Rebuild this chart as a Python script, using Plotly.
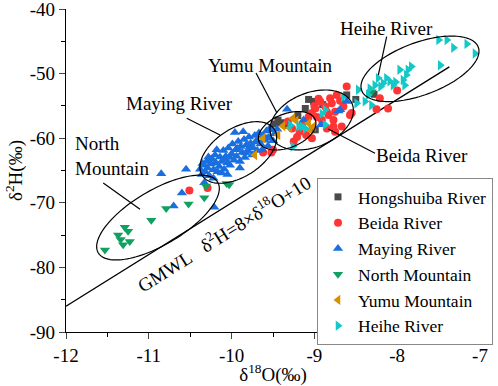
import numpy as np
import plotly.graph_objects as go

# ---------------- data ----------------
hong_x = [-9.07, -9.01, -9.11, -9.44, -9.48, -9.32, -8.99, -8.61, -8.50, -8.28, -9.20, -9.40, -8.90]
hong_y = [-54.0, -54.3, -55.4, -57.2, -57.8, -58.0, -58.7, -53.3, -54.0, -53.2, -56.5, -57.6, -54.8]

beida_x = [-10.51, -10.29, -9.62, -9.52, -9.50, -8.61, -8.73, -8.81, -8.93, -8.87, -8.79, -8.65, -8.75,
           -8.83, -8.99, -9.03, -8.97, -9.07, -9.15, -9.32, -9.27, -9.21, -9.25, -8.85, -8.75, -8.67,
           -8.55, -8.77, -8.91, -8.57, -8.77, -8.21, -8.00, -8.25, -8.11, -9.03, -9.18, -9.10, -8.95,
           -8.69, -8.85, -9.00]
beida_y = [-68.1, -67.7, -62.2, -62.2, -61.8, -52.0, -53.3, -53.8, -54.3, -55.1, -54.6, -55.1, -55.9,
           -56.4, -55.4, -56.1, -56.7, -56.7, -58.0, -57.4, -58.5, -59.8, -60.5, -58.5, -59.0, -58.2,
           -56.1, -57.2, -57.2, -56.4, -58.2, -53.8, -52.6, -55.5, -55.4, -60.0, -59.0, -59.5, -53.9,
           -54.2, -55.9, -55.0]

maying_x = [-10.85, -10.55, -10.60, -10.70, -10.21, -10.33, -9.96, -9.33, -8.92, -8.71, -8.61, -9.13,
            -8.69, -9.54, -10.05, -10.22, -9.90,
            -10.38, -10.36, -10.34, -10.32, -10.30, -10.29, -10.27, -10.25, -10.24, -10.22, -10.20,
            -10.19, -10.17, -10.15, -10.14, -10.12, -10.10, -10.09, -10.07, -10.05, -10.04, -10.02,
            -10.00, -9.99, -9.97, -9.95, -9.94, -9.92, -9.90, -9.89, -9.87, -9.85, -9.84, -9.82,
            -9.80, -9.79, -9.77, -9.75, -9.74, -9.72, -9.70, -9.69, -9.67, -9.65, -9.63, -9.62,
            -9.60, -9.58, -9.56, -9.55, -9.52, -9.50, -9.48, -9.45, -10.28, -10.12, -10.18, -9.86,
            -10.26, -10.08, -9.93, -9.78, -9.68, -9.57, -10.35, -10.02, -9.83]
maying_y = [-65.5, -64.8, -68.5, -70.5, -70.7, -66.9, -59.1, -55.5, -57.9, -55.8, -54.3, -57.2,
            -55.6, -58.5, -65.6, -66.2, -64.6,
            -64.8, -65.6, -64.2, -65.2, -63.6, -64.6, -65.8, -64.0, -63.2, -64.9, -62.6,
            -63.8, -65.2, -64.4, -62.9, -63.6, -61.9, -64.8, -62.8, -63.8, -61.5, -64.2,
            -62.4, -60.9, -63.4, -61.8, -62.8, -60.5, -63.6, -61.3, -62.2, -60.2, -63.0, -61.0,
            -62.0, -59.8, -60.8, -62.6, -61.5, -59.6, -60.4, -61.9, -59.2, -60.9, -61.8, -59.6,
            -60.3, -58.9, -61.2, -59.9, -58.7, -60.4, -59.3, -58.6, -62.9, -65.4, -61.8, -59.0,
            -63.3, -63.2, -61.6, -61.3, -60.6, -60.0, -63.9, -63.0, -62.3]

north_x = [-11.53, -11.37, -11.29, -11.25, -11.34, -11.31, -11.23, -10.97, -10.79, -10.52, -10.33,
           -10.31, -10.06, -10.03, -8.31]
north_y = [-77.3, -75.0, -73.8, -74.4, -75.7, -76.5, -76.0, -72.7, -70.9, -70.2, -69.2,
           -67.4, -67.0, -67.2, -52.8]

yumu_x = [-9.72, -9.62, -9.44, -9.26, -9.05, -9.07, -9.22, -9.38, -9.30, -9.01]
yumu_y = [-62.6, -60.0, -59.5, -56.9, -58.7, -57.7, -57.3, -58.1, -58.4, -58.2]

heihe_x = [-7.50, -7.40, -7.32, -7.16, -7.06, -7.48, -7.83, -7.87, -7.97, -7.89, -8.23, -8.13,
           -8.09, -8.17, -8.05, -7.93, -7.91, -8.27, -8.33, -8.35, -8.39, -8.49, -8.31, -8.47,
           -8.65, -8.87, -8.91, -9.15, -9.29, -9.19, -9.11, -8.87, -9.26, -8.20, -8.02]
heihe_y = [-44.8, -44.8, -46.0, -45.4, -46.9, -48.7, -48.9, -49.4, -49.4, -50.2, -50.7, -50.7,
           -51.2, -51.5, -51.8, -51.0, -51.8, -51.8, -52.3, -53.3, -54.3, -54.6, -54.9, -52.5,
           -53.6, -55.6, -56.2, -58.2, -58.0, -58.2, -58.5, -57.9, -61.3, -52.0, -51.3]

x_ticks = [-12, -11, -10, -9, -8, -7]
x_ticktext = ["-12", "-11", "-10", "-9", "-8", "-7"]
y_ticks = [-90, -80, -70, -60, -50, -40]
y_ticktext = ["-90", "-80", "-70", "-60", "-50", "-40"]

series = [
    ("Hongshuiba River", hong_x, hong_y, "square", "#4a4a4a", 7),
    ("Beida River", beida_x, beida_y, "circle", "#ff3535", 8),
    ("Maying River", maying_x, maying_y, "triangle-up", "#1a6fe0", 9),
    ("North Mountain", north_x, north_y, "triangle-down", "#10a060", 9),
    ("Yumu Mountain", yumu_x, yumu_y, "triangle-left", "#d99000", 9),
    ("Heihe River", heihe_x, heihe_y, "triangle-right", "#14c8c8", 9),
]

gmwl_x = [-12.0, -7.37]

# ellipses: centre (data), semi-axes (px), angle (deg)
ellipses = [
    (-10.889, -72.28, 69.4, 27.3, 30.6),
    (-9.919, -62.21, 42.8, 24.2, 32.6),
    (-9.329, -58.85, 30.2, 16.9, 21.4),
    (-9.033, -57.18, 43.6, 27.2, 21.8),
    (-7.725, -49.26, 62.2, 26.2, 20.4),
]

SX = 414 / 5.0   # px per x unit
SY = 323 / 50.0  # px per y unit

FONT = "'Liberation Serif', 'Times New Roman', serif"

fig = go.Figure()

fig.add_trace(go.Scatter(x=gmwl_x, y=[8 * v + 10 for v in gmwl_x], mode="lines",
                         line=dict(color="black", width=1.3), showlegend=False, hoverinfo="skip"))

for name, xs, ys, sym, col, sz in series:
    fig.add_trace(go.Scatter(x=xs, y=ys, mode="markers", name=name,
                             marker=dict(symbol=sym, color=col, size=sz, line=dict(width=0))))

shapes = []
t = np.linspace(0, 2 * np.pi, 120)
for cx, cy, a, b, th in ellipses:
    r = np.deg2rad(th)
    dx = a * np.cos(t) * np.cos(r) - b * np.sin(t) * np.sin(r)
    dy = a * np.cos(t) * np.sin(r) + b * np.sin(t) * np.cos(r)
    xs = cx + dx / SX
    ys = cy + dy / SY
    path = "M " + " L ".join(f"{x:.4f},{y:.4f}" for x, y in zip(xs, ys)) + " Z"
    shapes.append(dict(type="path", path=path, xref="x", yref="y",
                       line=dict(color="black", width=1.2)))

leaders = [
    (-8.127, -44.29, -8.228, -50.22),
    (-9.705, -49.91, -9.452, -56.10),
    (-10.542, -56.92, -10.140, -59.50),
    (-11.55, -66.93, -11.106, -71.01),
    (-8.832, -58.58, -8.268, -62.34),
]
for x0, y0, x1, y1 in leaders:
    shapes.append(dict(type="line", x0=x0, y0=y0, x1=x1, y1=y1, xref="x", yref="y",
                       line=dict(color="black", width=1.2)))

annots = [
    ("Heihe River", -8.127, -42.99, 0, "center"),
    ("Yumu Mountain", -9.527, -48.82, 0, "center"),
    ("Maying River", -10.635, -54.60, 0, "center"),
    ("Beida River", -7.704, -62.60, 0, "center"),
    ("GMWL", -10.804, -80.67, -32, "center"),
    ("δ<sup>2</sup>H=8×δ<sup>18</sup>O+10", -9.717, -71.63, -32, "center"),
]
ann = []
for txt, x, y, ang, xa in annots:
    ann.append(dict(text=txt, x=x, y=y, xref="x", yref="y", showarrow=False, textangle=ang,
                    xanchor=xa, yanchor="middle", font=dict(family=FONT, size=19, color="black")))
ann.append(dict(text="North<br>Mountain", x=-11.912, y=-62.76, xref="x", yref="y", showarrow=False,
                xanchor="left", yanchor="middle", align="left",
                font=dict(family=FONT, size=19, color="black")))

fig.update_layout(
    width=498, height=386,
    margin=dict(l=66, r=18, t=9, b=54, autoexpand=False),
    plot_bgcolor="white", paper_bgcolor="white",
    shapes=shapes, annotations=ann,
    font=dict(family=FONT, size=19, color="black"),
    legend=dict(x=(317 - 66) / 414, y=(332 - 178) / 323, xanchor="left", yanchor="top",
                bordercolor="#888888", borderwidth=1, bgcolor="white",
                font=dict(family=FONT, size=17.5, color="black"),
                itemwidth=30, tracegroupgap=0),
    xaxis=dict(range=[-12, -7], tickvals=x_ticks, ticktext=x_ticktext, ticks="outside",
               ticklen=6, tickwidth=1.3, ticklabeloverflow="allow",
               showline=True, linecolor="black", linewidth=1.3, showgrid=False, zeroline=False,
               tickfont=dict(family=FONT, size=19, color="black"),
               minor=dict(dtick=0.5, tick0=-12, ticks="outside", ticklen=4, tickwidth=1.2,
                          tickcolor="black"),
               title=dict(text="δ<sup>18</sup>O(‰)", standoff=4,
                          font=dict(family=FONT, size=19, color="black"))),
    yaxis=dict(range=[-90, -40], tickvals=y_ticks, ticktext=y_ticktext, ticks="outside",
               ticklen=6, tickwidth=1.3, ticklabeloverflow="allow",
               showline=True, linecolor="black", linewidth=1.3, showgrid=False, zeroline=False,
               tickfont=dict(family=FONT, size=19, color="black"),
               minor=dict(dtick=5, tick0=-90, ticks="outside", ticklen=4, tickwidth=1.2,
                          tickcolor="black"),
               title=dict(text="δ<sup>2</sup>H(‰)", standoff=2,
                          font=dict(family=FONT, size=19, color="black"))),
)

fig.write_html("out.html", config={"displayModeBar": False},
               post_script="document.body.style.margin='0';")
